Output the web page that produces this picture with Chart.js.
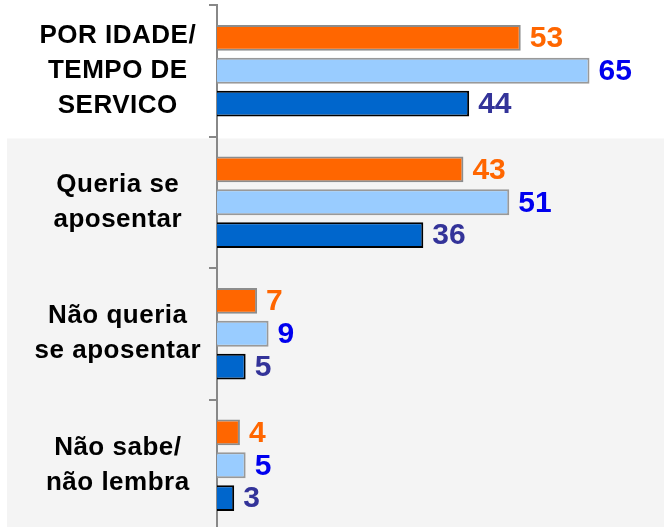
<!DOCTYPE html>
<html>
<head>
<meta charset="utf-8">
<script src="https://cdn.jsdelivr.net/npm/chart.js@4/dist/chart.umd.min.js"></script>
<style>
  html, body { margin: 0; padding: 0; background: #ffffff; overflow: hidden; }
  #wrap { position: relative; width: 664px; height: 531px; }
</style>
</head>
<body>
<div id="wrap"><canvas id="c" width="664" height="531"></canvas></div>
<script>
const categories = [
  ['POR IDADE/', 'TEMPO DE', 'SERVICO'],
  ['Queria se', 'aposentar'],
  ['Não queria', 'se aposentar'],
  ['Não sabe/', 'não lembra']
];
const seriesNames = ['Série 1', 'Série 2', 'Série 3'];
const seriesOrange = [53, 43, 7, 4];
const seriesLightBlue = [65, 51, 9, 5];
const seriesDarkBlue = [44, 36, 5, 3];

const labelColors = ['#FF6600', '#0000EE', '#333399'];

const bgPlugin = {
  id: 'bgBand',
  beforeDraw(chart) {
    const y = chart.scales.y;
    const ctx = chart.ctx;
    const boundary = (y.getPixelForValue(0) + y.getPixelForValue(1)) / 2;
    ctx.save();
    ctx.fillStyle = '#f4f4f4';
    ctx.fillRect(7, boundary + 2, chart.width - 7, chart.height - boundary);
    ctx.restore();
    ctx.letterSpacing = '0.5px';
  },
  beforeDatasetsDraw(chart) {
    chart.ctx.letterSpacing = '0px';
  }
};

const valuePlugin = {
  id: 'values',
  afterDatasetsDraw(chart) {
    const ctx = chart.ctx;
    ctx.save();
    ctx.font = 'bold 30px "Liberation Sans", Arial, sans-serif';
    ctx.textBaseline = 'middle';
    ctx.textAlign = 'left';
    chart.data.datasets.forEach((ds, i) => {
      const meta = chart.getDatasetMeta(i);
      meta.data.forEach((bar, j) => {
        ctx.fillStyle = labelColors[i];
        ctx.fillText(String(ds.data[j]), bar.x + 9, bar.y + 1);
      });
    });
    ctx.restore();
  }
};

new Chart(document.getElementById('c'), {
  type: 'bar',
  data: {
    labels: categories,
    datasets: [
      { label: seriesNames[0], data: seriesOrange, backgroundColor: '#FF6600', borderColor: '#8C8C8C', borderWidth: 2 },
      { label: seriesNames[1], data: seriesLightBlue, backgroundColor: '#99CCFF', borderColor: '#999999', borderWidth: 2 },
      { label: seriesNames[2], data: seriesDarkBlue, backgroundColor: '#0066CC', borderColor: '#000000', borderWidth: 2 }
    ]
  },
  options: {
    indexAxis: 'y',
    responsive: false,
    animation: false,
    devicePixelRatio: 1,
    layout: { padding: { top: 5, right: 0, bottom: 0, left: 0 } },
    datasets: { bar: { categoryPercentage: 0.75, barPercentage: 0.79 } },
    plugins: { legend: { display: false }, tooltip: { enabled: false } },
    scales: {
      x: { display: false, min: 0, max: 78 },
      y: {
        afterFit(scale) { scale.width = 217; scale.paddingTop = 0; scale.paddingBottom = 0; },
        border: { display: true, color: '#888888', width: 2 },
        grid: { display: true, drawOnChartArea: false, drawTicks: true, tickLength: 8, color: '#888888', lineWidth: 2, offset: true },
        ticks: {
          crossAlign: 'center',
          padding: 11,
          color: '#000000',
          font: { family: '"Liberation Sans", Arial, sans-serif', size: 26, weight: 'bold', lineHeight: 1.35 }
        }
      }
    }
  },
  plugins: [bgPlugin, valuePlugin]
});
</script>
</body>
</html>
